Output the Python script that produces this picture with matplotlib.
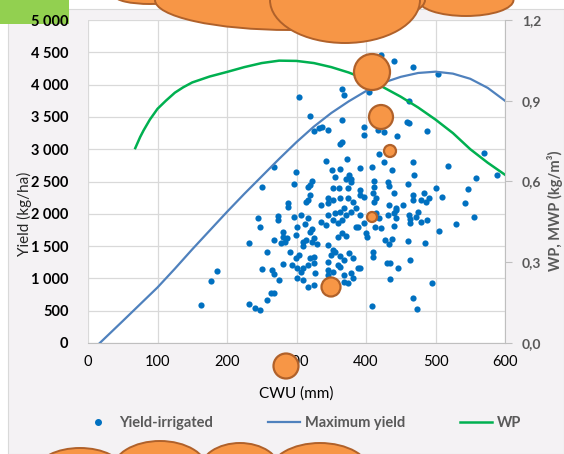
import numpy as np
import matplotlib.pyplot as plt
from matplotlib.patches import Circle, Ellipse, Rectangle
from matplotlib.lines import Line2D
from matplotlib.ticker import FuncFormatter, MultipleLocator

plt.rcParams['font.family'] = ['Lato', 'DejaVu Sans']

# Yield-irrigated (CWU mm, yield kg/ha)
cwu = [304, 365, 368, 320, 365, 325, 332, 336, 345, 362, 365, 268, 299, 343, 372, 351, 362, 355, 371, 375,
       297, 323, 316, 320, 250, 352, 361, 374, 421, 440, 467, 503, 405, 462, 397, 397, 417, 426, 459, 462,
       488, 444, 418, 391, 408, 426, 437, 467, 469, 518, 570, 558, 588, 378, 411, 431, 433, 460, 501, 547,
       411, 392, 378, 313, 320, 317, 335, 345, 352, 346, 363, 374, 381, 385, 392, 397, 410, 411, 414, 433,
       443, 440, 453, 467, 467, 483, 486, 479, 490, 509, 542, 555, 529, 505, 485, 460, 306, 317, 335, 342,
       352, 346, 356, 359, 366, 371, 378, 385, 392, 397, 413, 421, 400, 402, 431, 440, 443, 440, 462, 464,
       464, 479, 488, 428, 433, 437, 310, 323, 325, 345, 353, 356, 349, 362, 368, 359, 363, 375, 381, 309,
       316, 327, 325, 353, 368, 381, 378, 368, 374, 392, 410, 410, 430, 434, 446, 463, 434, 495, 467, 473,
       408, 317, 325, 309, 288, 288, 274, 273, 244, 248, 296, 301, 312, 323, 281, 280, 287, 277, 284, 267,
       232, 299, 313, 310, 320, 257, 251, 265, 267, 281, 291, 294, 301, 306, 301, 325, 320, 275, 263, 268,
       258, 232, 241, 248, 185, 177, 163, 299, 303, 330, 345, 366, 371, 359, 388, 388, 345, 346, 418, 414,
       472, 475, 443, 363, 368]
yield_irr = [3810, 3930, 3840, 3510, 3450, 3280, 3330, 3340, 3300, 3080, 3110, 2720, 2650, 2820, 2850, 2680, 2690, 2570, 2540, 2600,
             2460, 2510, 2420, 2450, 2420, 2400, 2400, 2400, 4460, 4370, 4270, 4160, 3890, 3750, 3340, 3220, 3300, 3270, 3420, 3410,
             3280, 3200, 2930, 2710, 2720, 2800, 2680, 2800, 2600, 2740, 2940, 2550, 2600, 2540, 2510, 2490, 2430, 2460, 2400, 2380,
             2420, 2370, 2490, 2180, 2290, 2210, 2140, 2170, 2210, 2250, 2250, 2250, 2180, 2090, 2290, 2260, 2320, 2180, 2250, 2140,
             2090, 2320, 2140, 2290, 2210, 2320, 2180, 2210, 2250, 2260, 2170, 1950, 1840, 1730, 1550, 1580, 1980, 1940, 1870, 1830,
             1900, 1980, 2010, 1860, 1900, 1980, 2030, 1800, 1980, 1860, 1800, 1780, 1700, 1640, 1980, 2010, 1940, 1810, 1980, 1920,
             1860, 1870, 1900, 1590, 1530, 1610, 1560, 1560, 1630, 1520, 1440, 1410, 1360, 1350, 1290, 1210, 1180, 1390, 1320, 1160,
             1210, 1080, 1240, 1100, 1050, 1010, 1080, 940, 930, 1160, 1410, 1330, 1240, 1240, 1160, 1290, 990, 930, 700, 530,
             570, 870, 900, 980, 2170, 2110, 1970, 1900, 1940, 1800, 1950, 1800, 1840, 1760, 1720, 1640, 1630, 1550, 1560, 1590,
             1550, 1670, 1590, 1500, 1720, 1410, 1150, 1130, 1070, 1220, 1410, 1210, 1160, 1100, 1010, 1330, 1320, 980, 770, 770,
             670, 600, 540, 510, 1110, 960, 590, 1320, 1360, 1530, 1250, 1700, 1660, 1640, 1160, 1800, 1050, 1130, 1940, 2010,
             1950, 2030, 2060, 2030, 2090]

# Maximum yield curve
max_cwu = [17, 50, 75, 100, 125, 150, 175, 200, 225, 250, 275, 300, 325, 350, 375, 400, 425, 450, 475, 500,
           525, 550, 575, 600]
max_yield = [0, 340, 600, 860, 1150, 1450, 1740, 2030, 2310, 2580, 2850, 3110, 3350, 3560, 3740, 3900, 4030, 4120,
             4180, 4200, 4170, 4090, 3950, 3750]

# WP curve (right axis)
wp_cwu = [68, 75, 80, 89, 100, 112, 125, 137, 150, 175, 200, 225, 250, 275, 300, 325, 350, 375, 400, 425, 450,
          475, 500, 525, 550, 575, 600]
wp = [0.724, 0.765, 0.79, 0.83, 0.87, 0.90, 0.93, 0.95, 0.968, 0.99, 1.007, 1.025, 1.04, 1.049, 1.048, 1.04,
      1.025, 1.005, 0.98, 0.95, 0.915, 0.875, 0.83, 0.78, 0.72, 0.67, 0.625]

W, H = 564, 454
fig = plt.figure(figsize=(W / 100, H / 100), dpi=100, facecolor='white')

def px(x, y):
    return x / 100, (H - y) / 100

# chart area background
fig.patches.append(Rectangle(px(8, H), (W - 8) / 100, (H - 9) / 100, transform=fig.dpi_scale_trans,
                             facecolor='#f4f2f4', edgecolor='#d9d9d9', lw=0.8, zorder=-2))
fig.patches.append(Rectangle(px(0, 24), 0.69, 0.24, transform=fig.dpi_scale_trans,
                             facecolor='#92d050', edgecolor='none', zorder=-1))

ax = fig.add_axes([88 / W, (H - 343) / H, (505 - 88) / W, (343 - 20) / H])
ax.set_facecolor('white')
ax2 = ax.twinx()

ax.scatter(cwu, yield_irr, s=20, color='#0070c0', zorder=3, linewidths=0)
ax.plot(max_cwu, max_yield, color='#4f81bd', lw=1.6, zorder=4)
ax2.plot(wp_cwu, wp, color='#00b050', lw=1.8)

ax.set_xlim(0, 600)
ax.set_ylim(0, 5000)
ax2.set_ylim(0, 1.2)
ax.xaxis.set_major_locator(MultipleLocator(100))
ax.yaxis.set_major_locator(MultipleLocator(500))
ax2.yaxis.set_major_locator(MultipleLocator(0.3))
ax.grid(True, color='#d9d9d9', lw=0.9)
ax.set_axisbelow(True)

ax.yaxis.set_major_formatter(FuncFormatter(lambda v, p: f'{int(v):,}'.replace(',', ' ')))
ax2.yaxis.set_major_formatter(FuncFormatter(lambda v, p: f'{v:.1f}'.replace('.', ',')))

for s in ['top', 'right', 'left']:
    ax.spines[s].set_visible(False)
    ax2.spines[s].set_visible(False)
ax.spines['bottom'].set_color('#bfbfbf')
ax2.spines['bottom'].set_visible(False)
ax2.spines['right'].set_visible(True)
ax2.spines['right'].set_color('#bfbfbf')

ax.tick_params(axis='y', length=0, pad=14, labelsize=10.5, labelcolor='black')
ax.tick_params(axis='x', length=0, pad=9, labelsize=10.5, labelcolor='black')
for t in ax.get_yticklabels():
    t.set_fontweight('bold')
ax2.tick_params(axis='y', length=5, color='#bfbfbf', pad=7, labelsize=10, labelcolor='#595959')
for t in ax2.get_yticklabels():
    t.set_fontweight('bold')

ax.set_xlabel('CWU (mm)', fontsize=11, color='black')
ax.xaxis.set_label_coords(0.5, -0.135)
ax.set_ylabel('Yield (kg/ha)', fontsize=11, color='#262626')
ax.yaxis.set_label_coords(-0.135, 0.40)
ax2.set_ylabel('WP, MWP (kg/m³)', fontsize=10.5, color='#595959', fontweight='bold')
ax2.yaxis.set_label_coords(1.1, 0.41)

handles = [Line2D([], [], marker='o', ls='none', color='#0070c0', markersize=4),
           Line2D([], [], color='#4f81bd', lw=1.6),
           Line2D([], [], color='#00b050', lw=1.8)]
leg = fig.legend(handles, ['Yield-irrigated', 'Maximum yield', 'WP'], loc='center',
                 bbox_to_anchor=(0.535, (H - 423) / H), ncol=3, frameon=False,
                 prop={'weight': 'bold', 'size': 10.5}, labelcolor='#595959',
                 columnspacing=3.8, handlelength=2.2, handletextpad=0.3)

# orange shapes on top of the chart
orange, brown = '#f79646', '#b0612a'
for cx, cy, r in [(372, 72, 18), (381, 117, 12), (390, 151, 6), (372, 217, 5), (331, 287, 9.5), (286, 366, 12.5)]:
    fig.patches.append(Circle(px(cx, cy), r / 100, transform=fig.dpi_scale_trans,
                              facecolor=orange, edgecolor=brown, lw=1.6, zorder=10))
for cx, cy, w, h in [(150, -4, 70, 16), (466, 0, 95, 32), (290, 0, 270, 60), (345, 0, 150, 86),
                     (80, 470, 85, 44), (160, 470, 95, 58), (240, 470, 80, 54), (320, 472, 100, 58)]:
    fig.patches.append(Ellipse(px(cx, cy), w / 100, h / 100, transform=fig.dpi_scale_trans,
                               facecolor=orange, edgecolor=brown, lw=1.4, zorder=10))

fig.savefig('out.png', dpi=100, facecolor=fig.get_facecolor())
